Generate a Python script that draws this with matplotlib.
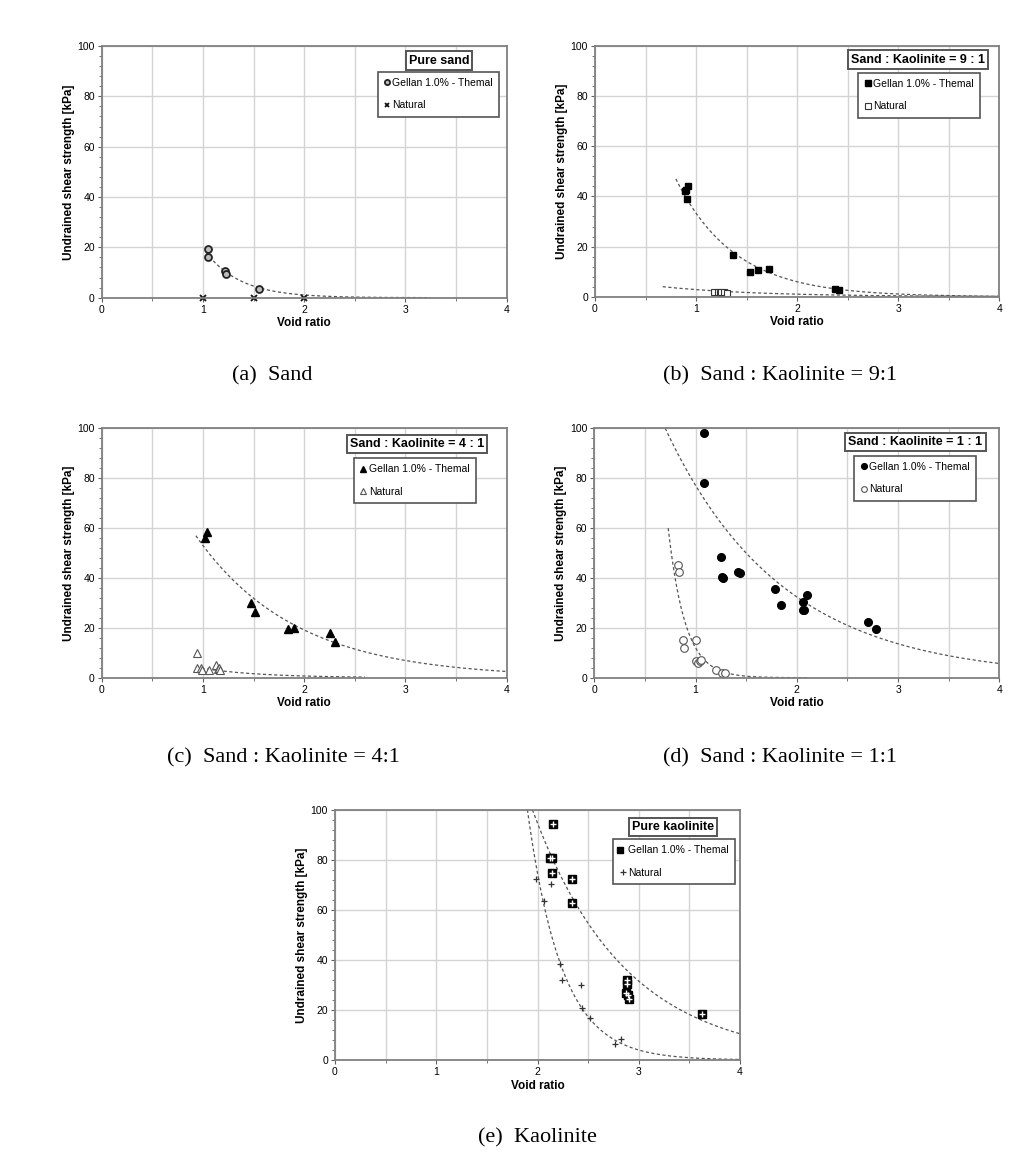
import numpy as np
import matplotlib
matplotlib.use("Agg")
import matplotlib.pyplot as plt
from matplotlib.ticker import MultipleLocator
from matplotlib.legend_handler import HandlerTuple

plt.rcParams['font.family'] = ['Liberation Sans', 'DejaVu Sans']

# %% donnees (void ratio, resistance au cisaillement non draine)

# (a) sable pur
sand_gel_e = [1.05, 1.05, 1.22, 1.23, 1.55]
sand_gel_su = [19.5, 16.0, 10.5, 9.5, 3.5]
sand_nat_e = [1.0, 1.5, 2.0]
sand_nat_su = [0.0, 0.0, 0.0]

# (b) sable : kaolinite = 9 : 1
k91_gel_e = [0.89, 0.90, 0.91, 0.92, 1.37, 1.53, 1.61, 1.72, 2.37, 2.41]
k91_gel_su = [42.0, 42.5, 39.0, 44.0, 16.5, 10.0, 10.5, 11.0, 3.0, 2.8]
k91_nat_e = [1.18, 1.22, 1.24, 1.25, 1.28, 1.31]
k91_nat_su = [1.8, 2.0, 1.5, 2.0, 1.8, 1.6]

# (c) sable : kaolinite = 4 : 1
k41_gel_e = [1.02, 1.04, 1.47, 1.51, 1.84, 1.90, 2.25, 2.30]
k41_gel_su = [56.0, 58.5, 30.0, 26.5, 19.5, 20.0, 18.0, 14.5]
k41_nat_e = [0.94, 0.94, 0.98, 0.99, 1.06, 1.13, 1.15, 1.16, 1.17]
k41_nat_su = [10.0, 4.0, 4.0, 3.0, 3.0, 5.0, 3.5, 3.8, 3.0]

# (d) sable : kaolinite = 1 : 1
k11_gel_e = [1.08, 1.08, 1.25, 1.26, 1.27, 1.42, 1.44, 1.78, 1.84, 2.06, 2.06, 2.07, 2.10, 2.70, 2.78]
k11_gel_su = [98.0, 78.0, 48.5, 40.5, 40.0, 42.5, 42.0, 35.5, 29.0, 30.5, 27.0, 27.0, 33.0, 22.5, 19.5]
k11_nat_e = [0.83, 0.84, 0.88, 0.89, 1.00, 1.00, 1.02, 1.04, 1.05, 1.20, 1.26, 1.29]
k11_nat_su = [45.0, 42.5, 15.0, 12.0, 15.0, 6.5, 6.0, 6.5, 7.0, 3.0, 2.0, 2.0]

# (e) kaolinite pure
kao_gel_e = [2.15, 2.12, 2.14, 2.14, 2.34, 2.34, 2.88, 2.88, 2.87, 2.89, 2.90, 3.62]
kao_gel_su = [94.5, 81.0, 81.0, 75.0, 72.5, 63.0, 32.0, 30.5, 27.0, 26.0, 24.5, 18.5]
kao_nat_e = [1.99, 2.06, 2.13, 2.22, 2.24, 2.43, 2.44, 2.52, 2.77, 2.82]
kao_nat_su = [72.5, 63.5, 70.5, 38.5, 32.0, 30.0, 21.0, 17.0, 6.5, 8.5]

# courbes de tendance exponentielles y = a*exp(-b*e) : [a, b, e debut, e fin]
trend_sand = [[358.0, 2.9, 1.03, 3.25]]
trend_k91 = [[186.0, 1.72, 0.80, 4.0], [8.0, 1.04, 0.67, 4.0]]
trend_k41 = [[147.0, 1.02, 0.93, 4.0], [20.4, 1.7, 0.93, 2.6]]
trend_k11 = [[183.7, 0.868, 0.70, 4.0], [4650.0, 5.96, 0.73, 2.1]]
trend_kao = [[855.0, 1.10, 1.95, 4.0], [26200.0, 2.93, 1.90, 4.0]]

titres = ["Pure sand", "Sand : Kaolinite = 9 : 1", "Sand : Kaolinite = 4 : 1",
          "Sand : Kaolinite = 1 : 1", "Pure kaolinite"]
legendes = ["Gellan 1.0% - Themal", "Natural"]
captions = ["(a)  Sand", "(b)  Sand : Kaolinite = 9:1", "(c)  Sand : Kaolinite = 4:1",
            "(d)  Sand : Kaolinite = 1:1", "(e)  Kaolinite"]

# %% mise en page (pixels)
W, H = 1031, 1171
fig = plt.figure(figsize=(W / 100, H / 100), dpi=100)


def axes_px(x0, y0, x1, y1):
    return fig.add_axes([x0 / W, 1 - y1 / H, (x1 - x0) / W, (y1 - y0) / H])


def style_axes(ax):
    ax.set_xlim(0, 4)
    ax.set_ylim(0, 100)
    ax.xaxis.set_major_locator(MultipleLocator(1))
    ax.xaxis.set_minor_locator(MultipleLocator(0.5))
    ax.yaxis.set_major_locator(MultipleLocator(20))
    ax.yaxis.set_minor_locator(MultipleLocator(4))
    ax.grid(True, which='major', color='#d4d4d4', lw=1.0)
    ax.grid(True, which='minor', axis='x', color='#d4d4d4', lw=1.0)
    ax.set_axisbelow(True)
    for s in ax.spines.values():
        s.set_color('#808080')
        s.set_linewidth(1.3)
    ax.tick_params(which='major', length=3, width=0.8, color='#606060', labelsize=7.5, pad=2)
    ax.tick_params(which='minor', length=2, width=0.6, color='#606060')
    ax.set_xlabel("Void ratio", fontsize=8.5, fontweight='bold', labelpad=2)
    ax.set_ylabel("Undrained shear strength [kPa]", fontsize=8.5, fontweight='bold', labelpad=2)


def tendances(ax, params):
    for a, b, e0, e1 in params:
        e = np.linspace(e0, e1, 200)
        ax.plot(e, a * np.exp(-b * e), ls=(0, (2.5, 2)), color='#555555', lw=0.9, zorder=2)


def habillage(ax, titre, tx, ty, handles, lx, ly):
    ax.text(tx, ty, titre, transform=ax.transAxes, ha='center', va='center',
            fontsize=9, fontweight='bold',
            bbox=dict(boxstyle='square,pad=0.25', fc='white', ec='#555555', lw=1.4))
    leg = ax.legend(handles, legendes, loc='upper right', bbox_to_anchor=(lx, ly),
                    fontsize=7.5, fancybox=False, edgecolor='#555555', framealpha=1,
                    markerscale=0.75, handlelength=0.6, handletextpad=0.2,
                    labelspacing=1.2, borderpad=0.6, borderaxespad=0,
                    handler_map={tuple: HandlerTuple(ndivide=None)})
    leg.get_frame().set_linewidth(1.2)


pos = [(101.7, 46, 506.7, 297.7), (595, 46, 999.3, 296.7), (101.7, 428.3, 506.7, 677.7),
       (594.3, 428.3, 999.3, 677.7), (335, 810, 740, 1060)]
axs = [axes_px(*p) for p in pos]
for ax in axs:
    style_axes(ax)

# (a)
ax = axs[0]
tendances(ax, trend_sand)
h1, = ax.plot(sand_gel_e, sand_gel_su, 'o', ms=5, mfc='#bdbdbd', mec='#222222', mew=1.3, ls='none')
h2, = ax.plot(sand_nat_e, sand_nat_su, 'x', ms=4, color='#111111', mew=1.3, ls='none', clip_on=False)
habillage(ax, titres[0], 0.833, 0.942, [h1, h2], 0.981, 0.898)

# (b)
ax = axs[1]
tendances(ax, trend_k91)
h1, = ax.plot(k91_gel_e, k91_gel_su, 's', ms=5, mfc='black', mec='black', ls='none')
h2, = ax.plot(k91_nat_e, k91_nat_su, 's', ms=5, mfc='white', mec='#333333', mew=0.8, ls='none')
habillage(ax, titres[1], 0.799, 0.946, [h1, h2], 0.952, 0.894)

# (c)
ax = axs[2]
tendances(ax, trend_k41)
h1, = ax.plot(k41_gel_e, k41_gel_su, '^', ms=5.5, mfc='black', mec='black', ls='none')
h2, = ax.plot(k41_nat_e, k41_nat_su, '^', ms=5.5, mfc='white', mec='#555555', mew=0.8, ls='none')
habillage(ax, titres[2], 0.779, 0.937, [h1, h2], 0.923, 0.880)

# (d)
ax = axs[3]
tendances(ax, trend_k11)
h1, = ax.plot(k11_gel_e, k11_gel_su, 'o', ms=5.5, mfc='black', mec='black', ls='none')
h2, = ax.plot(k11_nat_e, k11_nat_su, 'o', ms=5.5, mfc='white', mec='#555555', mew=0.8, ls='none')
habillage(ax, titres[3], 0.793, 0.946, [h1, h2], 0.942, 0.890)

# (e)
ax = axs[4]
tendances(ax, trend_kao)
h1a, = ax.plot(kao_gel_e, kao_gel_su, 's', ms=5.5, mfc='black', mec='black', ls='none')
h1b, = ax.plot(kao_gel_e, kao_gel_su, '+', ms=4.5, color='white', mew=1.0, ls='none')
h2, = ax.plot(kao_nat_e, kao_nat_su, '+', ms=5, color='#333333', mew=0.9, ls='none')
habillage(ax, titres[4], 0.835, 0.933, [(h1a, h1b), h2], 0.987, 0.884)

# legendes sous les graphiques
cap_pos = [(272, 376), (780, 376), (283, 758), (780, 758), (537, 1138)]
for (cx, cy), txt in zip(cap_pos, captions):
    fig.text(cx / W, 1 - cy / H, txt, ha='center', va='center', fontsize=16,
             family=['Liberation Serif', 'DejaVu Serif'])

fig.savefig("out.png", dpi=100, facecolor='white')
